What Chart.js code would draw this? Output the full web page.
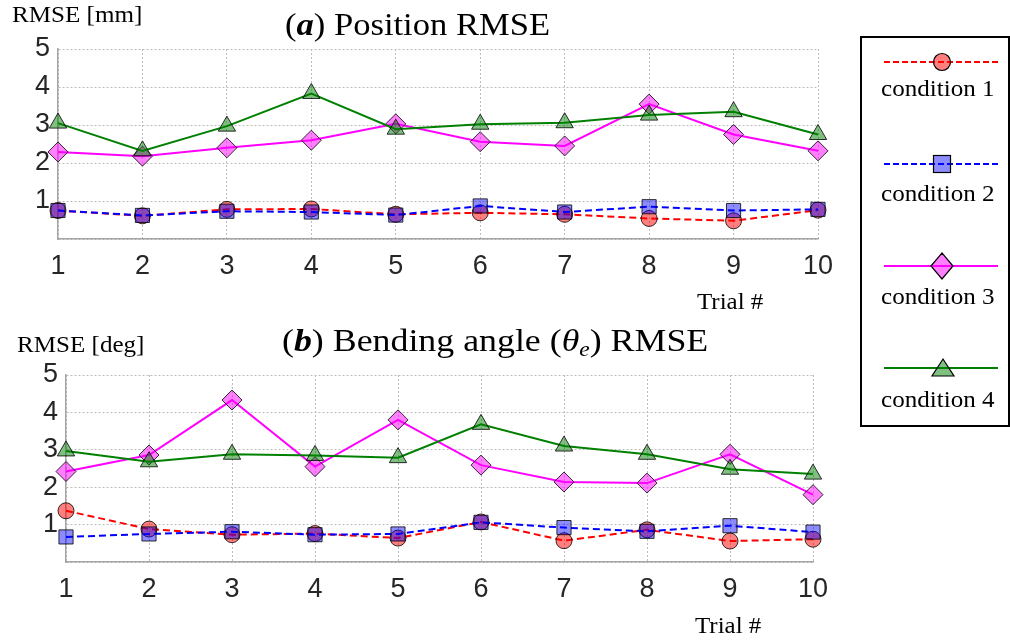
<!DOCTYPE html>
<html>
<head>
<meta charset="utf-8">
<script src="https://cdn.jsdelivr.net/npm/chart.js@4.4.0/dist/chart.umd.min.js"></script>
<style>
  body { margin: 0; background: #fff; width: 1010px; height: 643px; position: relative; overflow: hidden; }
  canvas { position: absolute; left: 0; }
  .txt {
    position: absolute;
    font-family: "Liberation Serif", "Times New Roman", serif;
    line-height: 1;
    white-space: nowrap;
    transform-origin: 0 0;
    color: #000;
  }
  #legend-box {
    position: absolute; left: 860px; top: 36px;
    width: 146px; height: 387px;
    border: 2px solid #000; background: #fff;
  }
</style>
</head>
<body>

<canvas id="posChart" width="850" height="300" style="top:0"></canvas>
<canvas id="angChart" width="850" height="323" style="top:320px"></canvas>

<!-- titles and axis labels -->
<div class="txt" style="left:12px; top:3px; font-size:23px; transform:scaleX(1.09)">RMSE [mm]</div>
<div class="txt" style="left:285px; top:8px; font-size:32px; transform:scaleX(1.08)">(<b><i>a</i></b>) Position RMSE</div>
<div class="txt" style="left:697px; top:289px; font-size:24px; transform:scaleX(1.04)">Trial #</div>

<div class="txt" style="left:17px; top:333px; font-size:23px; transform:scaleX(1.09)">RMSE [deg]</div>
<div class="txt" style="left:282px; top:324px; font-size:32px; transform:scaleX(1.12)">(<b><i>b</i></b>) Bending angle (<i>θ</i><sub style="font-size:21px; font-style:italic; vertical-align:-5px; line-height:0">e</sub>) RMSE</div>
<div class="txt" style="left:695px; top:613px; font-size:24px; transform:scaleX(1.04)">Trial #</div>

<!-- shared legend -->
<div id="legend-box"></div>
<svg style="position:absolute; left:0; top:0" width="1010" height="643">
  <line x1="884" y1="62" x2="998" y2="62" stroke="#ff0000" stroke-width="2" stroke-dasharray="6 3"/>
  <circle cx="942" cy="62" r="8.5" fill="rgba(255,0,0,0.5)" stroke="#000" stroke-width="1.2"/>
  <line x1="884" y1="164" x2="998" y2="164" stroke="#0000ff" stroke-width="2" stroke-dasharray="6 3"/>
  <rect x="933.5" y="155.5" width="17" height="17" fill="rgba(0,0,255,0.45)" stroke="#000" stroke-width="1.2"/>
  <line x1="884" y1="266" x2="998" y2="266" stroke="#ff00ff" stroke-width="2"/>
  <polygon points="931,266 942,253 953,266 942,279" fill="rgba(255,0,255,0.5)" stroke="#000" stroke-width="1.2"/>
  <line x1="884" y1="368" x2="998" y2="368" stroke="#008000" stroke-width="2"/>
  <polygon points="943,359 954,376 932,376" fill="rgba(0,128,0,0.5)" stroke="#000" stroke-width="1.2"/>
</svg>
<div class="txt" style="left:881px; top:77px; font-size:23px; transform:scaleX(1.09)">condition 1</div>
<div class="txt" style="left:881px; top:182px; font-size:23px; transform:scaleX(1.09)">condition 2</div>
<div class="txt" style="left:881px; top:285px; font-size:23px; transform:scaleX(1.09)">condition 3</div>
<div class="txt" style="left:881px; top:388px; font-size:23px; transform:scaleX(1.09)">condition 4</div>

<script>
// Trial numbers on the x axis
const trials = ['1', '2', '3', '4', '5', '6', '7', '8', '9', '10'];
// y tick labels (0 is not labelled)
const yTicks = [1, 2, 3, 4, 5];

// (a) Position RMSE [mm]
const posCond1 = [0.75, 0.61, 0.78, 0.79, 0.65, 0.69, 0.65, 0.54, 0.48, 0.76];
const posCond2 = [0.75, 0.62, 0.73, 0.71, 0.63, 0.87, 0.71, 0.85, 0.75, 0.78];
const posCond3 = [2.29, 2.18, 2.40, 2.60, 3.03, 2.56, 2.45, 3.55, 2.75, 2.32];
const posCond4 = [3.05, 2.32, 2.97, 3.83, 2.89, 3.02, 3.06, 3.26, 3.35, 2.75];

// (b) Bending angle RMSE [deg]
const angCond1 = [1.37, 0.88, 0.73, 0.76, 0.64, 1.07, 0.57, 0.86, 0.56, 0.61];
const angCond2 = [0.67, 0.75, 0.81, 0.73, 0.75, 1.06, 0.92, 0.82, 0.97, 0.80];
const angCond3 = [2.42, 2.86, 4.33, 2.55, 3.80, 2.59, 2.14, 2.11, 2.88, 1.80];
const angCond4 = [2.97, 2.68, 2.88, 2.85, 2.79, 3.68, 3.10, 2.88, 2.48, 2.35];

const tickFont = { family: 'Liberation Sans, Arial, sans-serif', size: 27 };
const tickColor = '#262626';

// one line series, MATLAB-ish look
function series(label, data, color, fill, style, radius, dashed, order) {
  return {
    label: label,
    data: data,
    borderColor: color,
    borderWidth: 2,
    borderDash: dashed ? [7, 4] : [],
    tension: 0,
    pointStyle: style,
    pointRadius: radius,
    pointBackgroundColor: fill,
    pointBorderColor: 'rgba(0,0,0,0.8)',
    pointBorderWidth: 1,
    clip: false,
    order: order
  };
}

function makeChart(id, c1, c2, c3, c4, box) {
  var ctx = document.getElementById(id).getContext('2d');
  return new Chart(ctx, {
    type: 'line',
    data: {
      labels: trials,
      datasets: [
        series('condition 1', c1, '#ff0000', 'rgba(255,0,0,0.5)', 'circle', 8, true, 3),
        series('condition 2', c2, '#0000ff', 'rgba(0,0,255,0.45)', 'rect', 10, true, 2),
        series('condition 3', c3, '#ff00ff', 'rgba(255,0,255,0.5)', 'rectRot', 10, false, 1),
        series('condition 4', c4, '#008000', 'rgba(0,128,0,0.5)', 'triangle', 10, false, 0)
      ]
    },
    options: {
      responsive: false,
      animation: false,
      devicePixelRatio: 1,
      layout: { padding: { top: box.padTop, right: box.padRight, left: 0, bottom: 0 } },
      plugins: { legend: { display: false }, tooltip: { enabled: false } },
      scales: {
        x: {
          type: 'category',
          offset: false,
          grid: { color: '#bdbdbd', lineWidth: 1, drawTicks: false, offset: false },
          border: { display: true, color: '#a6a6a6', width: 1.5, dash: [2, 2] },
          ticks: { font: tickFont, color: tickColor, padding: 11, maxRotation: 0, autoSkip: false },
          afterFit: function (scale) { scale.height = box.axisH; }
        },
        y: {
          min: 0,
          max: 5,
          grid: { color: '#bdbdbd', lineWidth: 1, drawTicks: false },
          border: { display: true, color: '#a6a6a6', width: 1.5, dash: [2, 2] },
          ticks: {
            stepSize: 1,
            font: tickFont,
            color: tickColor,
            padding: 8,
            callback: function (v) { return yTicks.indexOf(v) >= 0 ? String(v) : ''; }
          },
          afterFit: function (scale) { scale.width = box.axisW; }
        }
      }
    }
  });
}

makeChart('posChart', posCond1, posCond2, posCond3, posCond4,
  { axisW: 58, axisH: 61, padTop: 49, padRight: 32 });
makeChart('angChart', angCond1, angCond2, angCond3, angCond4,
  { axisW: 66, axisH: 81, padTop: 55, padRight: 37 });
</script>
</body>
</html>
